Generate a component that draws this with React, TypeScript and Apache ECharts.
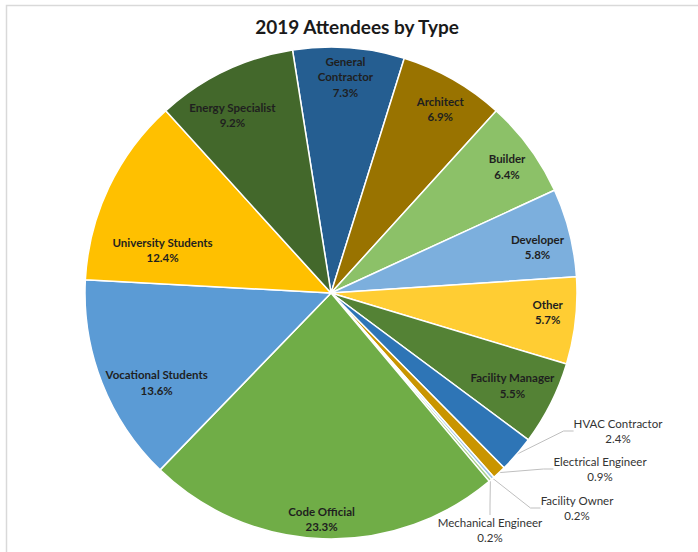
import React, { useEffect, useRef } from "react";
import * as echarts from "echarts";

const chartTitle = "2019 Attendees by Type";
const categories = [
  "General Contractor",
  "Architect",
  "Builder",
  "Developer",
  "Other",
  "Facility Manager",
  "HVAC Contractor",
  "Electrical Engineer",
  "Facility Owner",
  "Mechanical Engineer",
  "Code Official",
  "Vocational Students",
  "University Students",
  "Energy Specialist",
];
const values = [7.3, 6.9, 6.4, 5.8, 5.7, 5.5, 2.4, 0.9, 0.2, 0.2, 23.3, 13.6, 12.4, 9.2];
const colors = [
  "#255E91",
  "#997300",
  "#8CC168",
  "#7CAFDD",
  "#FFCD33",
  "#548235",
  "#2E75B6",
  "#C99500",
  "#9DC3E6",
  "#A9D18E",
  "#70AD47",
  "#5B9BD5",
  "#FFC000",
  "#43682B",
];
const outsideNames = ["HVAC Contractor", "Electrical Engineer", "Facility Owner", "Mechanical Engineer"];
const displayNames: Record<string, string> = { "General Contractor": "General\nContractor" };

// label fine-tuning (offsets relative to library-computed positions)
const insideOffsets: Record<string, [number, number]> = {
  "University Students": [23, 48],
  "Vocational Students": [23, 12],
  "Code Official": [-2, 14],
  "Energy Specialist": [-7, 13],
  "General Contractor": [-1, -5],
  Other: [6, -5],
  "Facility Manager": [-8, -3],
  Developer: [1, 6],
  Builder: [5, -1],
  Architect: [4, 0],
};
const outsidePos: Record<string, [number, number]> = {
  "HVAC Contractor": [618, 431],
  "Electrical Engineer": [600, 469],
  "Facility Owner": [577, 508],
  "Mechanical Engineer": [490, 530],
};

const FONT = "Lato, 'Noto Sans', sans-serif";
const CX = 331;
const CY = 293;
const R = 246;
const START = 99;

export default function App() {
  const ref = useRef<HTMLDivElement>(null);
  useEffect(() => {
    if (!ref.current) return;
    const chart = echarts.init(ref.current, undefined, { renderer: "svg" });
    const fmt = (p: any) => `${displayNames[p.name] ?? p.name}\n${Number(p.value).toFixed(1)}%`;

    const mainData = categories.map((name, i) => {
      const isOut = outsideNames.includes(name);
      return {
        name,
        value: values[i],
        itemStyle: { color: colors[i] },
        label: { show: isOut },
        labelLine: { show: isOut },
      };
    });
    const overlayData = categories.map((name, i) => ({
      name,
      value: values[i],
      label: { show: !outsideNames.includes(name) },
    }));

    chart.setOption({
      animation: false,
      backgroundColor: "#ffffff",
      title: {
        text: chartTitle,
        left: 357,
        top: 17,
        textAlign: "center",
        padding: 0,
        textStyle: { fontFamily: FONT, fontSize: 19, fontWeight: "bold", color: "#1a1a1a" },
      },
      graphic: [
        {
          type: "polyline",
          shape: { points: [[6.5, 552], [6.5, 5.5], [698, 5.5]] },
          style: { stroke: "#d9d9d9", lineWidth: 1.5, fill: "none" },
          silent: true,
        },
      ],
      series: [
        {
          type: "pie",
          center: [CX, CY],
          radius: R,
          startAngle: START,
          clockwise: true,
          avoidLabelOverlap: false,
          silent: true,
          itemStyle: { borderColor: "#ffffff", borderWidth: 1.5 },
          emphasis: { disabled: true },
          label: {
            show: false,
            position: "outside",
            formatter: fmt,
            fontFamily: FONT,
            fontSize: 11.5,
            lineHeight: 15,
            color: "#333333",
            align: "center",
          },
          labelLine: {
            show: false,
            length: 10,
            length2: 10,
            lineStyle: { color: "#bfbfbf", width: 1 },
          },
          labelLayout: (p: any) => {
            const name = categories[p.dataIndex];
            const pos = outsidePos[name];
            if (!pos) return {};
            return { x: pos[0], y: pos[1], align: "center", verticalAlign: "middle" };
          },
          data: mainData,
        },
        {
          type: "pie",
          center: [CX, CY],
          radius: [172, R],
          startAngle: START,
          clockwise: true,
          avoidLabelOverlap: false,
          silent: true,
          itemStyle: { color: "rgba(0,0,0,0)", borderWidth: 0 },
          emphasis: { disabled: true },
          label: {
            show: true,
            position: "inside",
            formatter: fmt,
            fontFamily: FONT,
            fontSize: 11.5,
            fontWeight: "bold",
            lineHeight: 15.5,
            color: "#1f1f1f",
            align: "center",
          },
          labelLine: { show: false },
          labelLayout: (p: any) => {
            const off = insideOffsets[categories[p.dataIndex]];
            return off ? { dx: off[0], dy: off[1] } : {};
          },
          data: overlayData,
        },
      ],
    });
    return () => chart.dispose();
  }, []);

  return (
    <div
      ref={ref}
      style={{ position: "absolute", left: 0, top: 0, width: 698, height: 552, background: "#fff" }}
    />
  );
}
